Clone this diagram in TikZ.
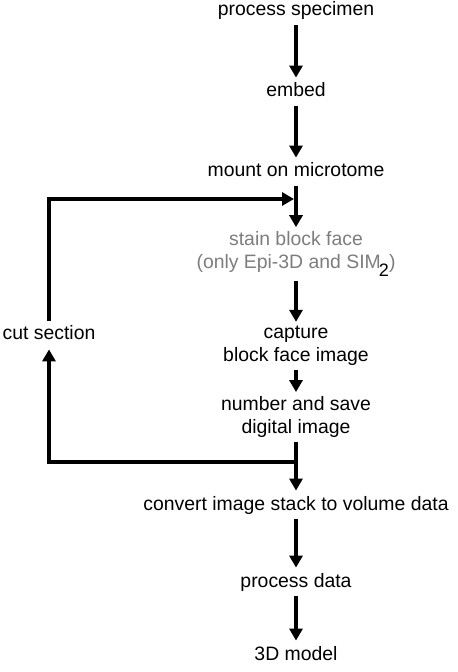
\documentclass[tikz,border=0pt]{standalone}
\usepackage{fontspec}
\setmainfont{Liberation Sans}
\usepackage{xcolor}
\usetikzlibrary{arrows.meta}
\tikzset{every node/.append style={font=\fontsize{9.7}{11.5}\selectfont}}
\definecolor{stepgray}{RGB}{125,125,125}

\begin{document}
\begin{tikzpicture}[x=0.5pt, y=-0.5pt, >={Triangle[length=6pt,width=6.5pt]},
    proc/.style={anchor=base, inner sep=2pt, text height=0.75em, text depth=0.25em},
    proctwo/.style={anchor=center, align=center, inner sep=2pt},
    flow/.style={->, line width=2pt}]
    \useasboundingbox (0,0) rectangle (457,672);
    % main chain
    \node[proc] (spec) at (296,16) {process specimen};
    \node[proc] (embed) at (296,97) {embed};
    \node[proc] (mount) at (296,177) {mount on microtome};
    \node[proctwo, text=stepgray] (stain) at (296,254) {stain block face\\(only Epi-3D and SIM\kern-0.1em\raisebox{-0.4em}{\color{black}\fontsize{9}{9}\selectfont 2})};
    \node[proctwo] (capture) at (296,346) {capture\\block face image};
    \node[proctwo] (number) at (296,417) {number and save\\digital image};
    \node[proc] (convert) at (296,510) {convert image stack to volume data};
    \node[proc] (data) at (296,587) {process data};
    \node[proc] (model) at (296,660) {3D model};
    \node[proc] (cut) at (49,340) {cut section};
    \coordinate (loopin) at (296,199);
    \coordinate (loopout) at (296,462);
    \draw[flow] (spec) -- (embed);
    \draw[flow] (embed) -- (mount);
    \draw[flow] (mount) -- (stain);
    \draw[flow] (stain) -- (capture);
    \draw[flow] (capture) -- (number);
    \draw[flow] (number) -- (convert);
    \draw[flow] (convert) -- (data);
    \draw[flow] (data) -- (model);
    % loop back
    \draw[flow] (loopout) -| (cut);
    \draw[flow, shorten >=1pt] (cut) |- (loopin);
\end{tikzpicture}
\end{document}
